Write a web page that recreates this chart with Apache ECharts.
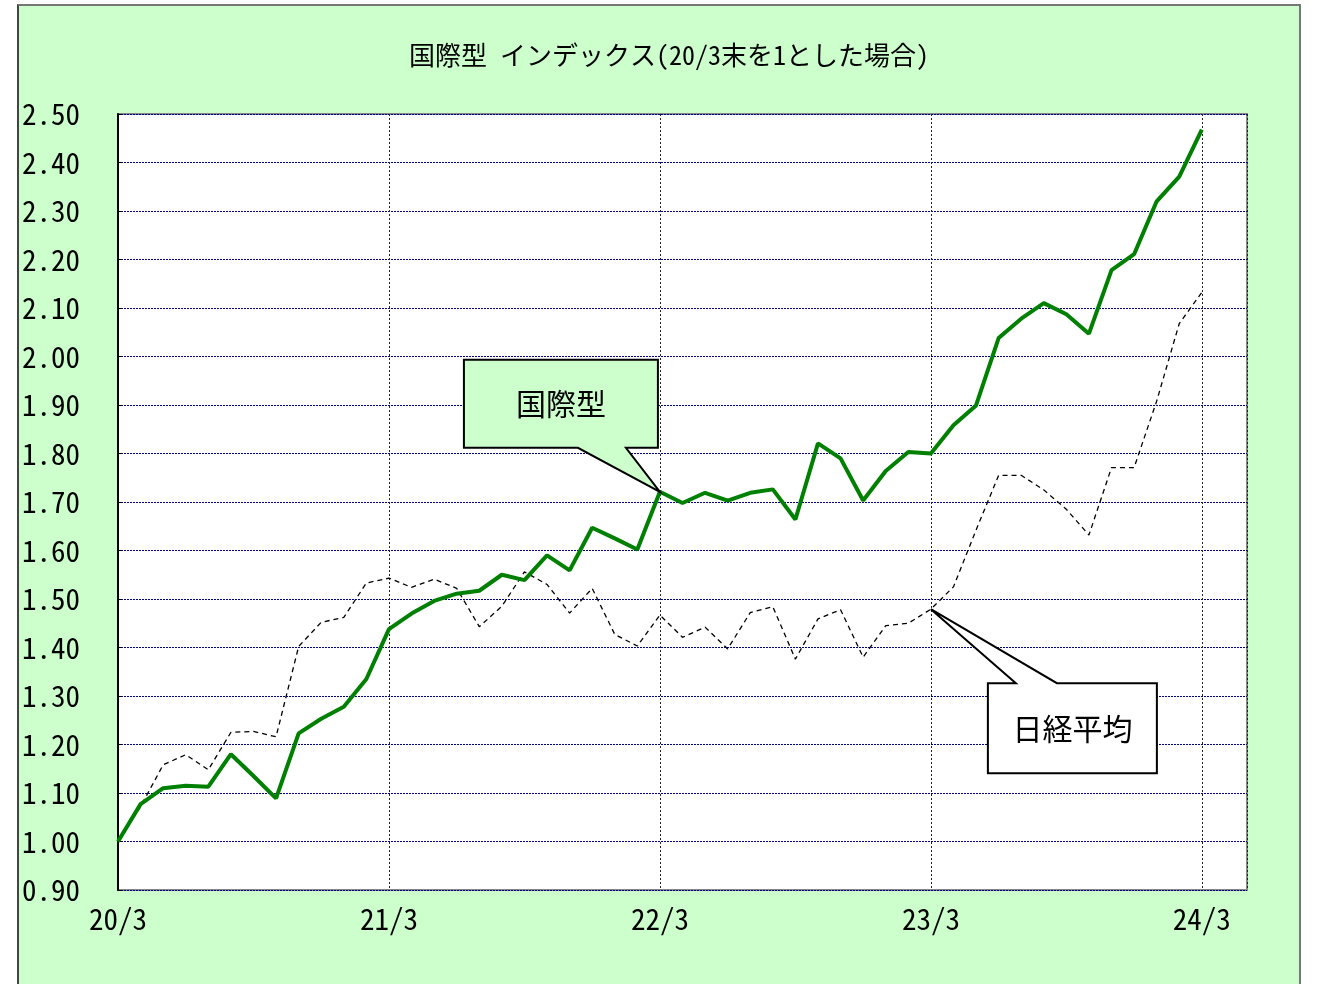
<!DOCTYPE html>
<html>
<head>
<meta charset="utf-8">
<script src="https://cdn.jsdelivr.net/npm/echarts@6/dist/echarts.min.js"></script>
<style>
  html, body { margin: 0; padding: 0; background: #fff; }
  #frame {
    position: absolute; left: 17px; top: 4px; width: 1280px; height: 990px;
    background: #ccffcc; border-left: 2px solid #444; border-top: 2px solid #777; border-right: 2px solid #777;
  }
  #chart { position: absolute; left: 0; top: 0; width: 1317px; height: 984px; }
</style>
</head>
<body>
<div id="frame"></div>
<div id="chart"></div>
<script>
// months since 2020/3, one value per month-end
const xLabels = ['20/3', '21/3', '22/3', '23/3', '24/3']
const intlIndex = [
  1.000, 1.077, 1.110, 1.115, 1.113, 1.180, 1.135, 1.089, 1.223, 1.253, 1.278, 1.335,
  1.438, 1.470, 1.496, 1.511, 1.517, 1.550, 1.539, 1.590, 1.559, 1.647, 1.625, 1.602,
  1.721, 1.698, 1.719, 1.703, 1.719, 1.726, 1.664, 1.821, 1.790, 1.703, 1.764, 1.803,
  1.800, 1.858, 1.899, 2.038, 2.078, 2.110, 2.087, 2.047, 2.178, 2.211, 2.320, 2.371,
  2.468
]
const nikkei = [
  1.000, 1.072, 1.158, 1.179, 1.148, 1.225, 1.227, 1.216, 1.402, 1.452, 1.462, 1.533,
  1.543, 1.524, 1.541, 1.522, 1.443, 1.485, 1.556, 1.530, 1.471, 1.522, 1.427, 1.403,
  1.467, 1.421, 1.442, 1.397, 1.472, 1.484, 1.376, 1.459, 1.478, 1.380, 1.445, 1.450,
  1.479, 1.525, 1.642, 1.755, 1.755, 1.725, 1.685, 1.632, 1.771, 1.771, 1.908, 2.068,
  2.132
]
const titleText = '国際型 インデックス(20/3末を1とした場合)'
const calloutIntl = { name: '国際型', month: 24 }
const calloutNikkei = { name: '日経平均', month: 36 }

const monoFont = "'Noto Sans Mono CJK JP', 'Liberation Mono', monospace"
const jpFont = "'Noto Sans Mono CJK JP', 'Noto Sans CJK JP', sans-serif"

const chart = echarts.init(document.getElementById('chart'))

const option = {
  animation: false,
  title: {
    text: titleText,
    left: 404,
    top: 37,
    textStyle: { fontFamily: jpFont, fontSize: 26, fontWeight: 'normal', color: '#000' }
  },
  grid: {
    left: 118, top: 114, right: 70, bottom: 94,
    show: true, backgroundColor: '#fff', borderColor: '#888', borderWidth: 2
  },
  xAxis: {
    type: 'value',
    min: 0, max: 50, interval: 12,
    axisLine: { show: false },
    axisTick: { show: false },
    axisLabel: {
      margin: 14,
      fontFamily: monoFont, fontSize: 29, color: '#000',
      showMaxLabel: false,
      formatter: v => (v % 12 === 0 ? xLabels[v / 12] || '' : '')
    },
    splitLine: { show: true, lineStyle: { color: '#222', type: [2, 2], width: 1 } }
  },
  yAxis: {
    type: 'value',
    min: 0.9, max: 2.5, interval: 0.1,
    axisLine: { show: true, onZero: false, lineStyle: { color: '#000', width: 2 } },
    axisTick: { show: true, inside: true, length: 4, lineStyle: { color: '#000' } },
    axisLabel: {
      align: 'left', margin: 96,
      fontFamily: monoFont, fontSize: 29, color: '#000',
      formatter: v => v.toFixed(2)
    },
    splitLine: { show: true, lineStyle: { color: '#000080', type: [2, 1], width: 1 } }
  },
  series: [
    {
      name: '日経平均',
      type: 'line',
      data: nikkei.map((v, i) => [i, v]),
      symbol: 'none',
      lineStyle: { color: '#000', width: 1.3, type: [5, 4] },
      z: 3
    },
    {
      name: '国際型',
      type: 'line',
      data: intlIndex.map((v, i) => [i, v]),
      symbol: 'none',
      lineStyle: { color: '#008000', width: 4 },
      z: 4
    }
  ]
}

chart.setOption(option)

// callout balloons anchored to the data points
function callout(c, values, box, base, fill) {
  const tip = chart.convertToPixel({ gridIndex: 0 }, [c.month, values[c.month]])
  const bx = tip[0] + box.dx, by = tip[1] + box.dy
  const pts = box.pointerUp
    ? [[bx, by], [bx + base[0], by], tip, [bx + base[1], by], [bx + box.w, by], [bx + box.w, by + box.h], [bx, by + box.h]]
    : [[bx, by], [bx + box.w, by], [bx + box.w, by + box.h], [bx + base[1], by + box.h], tip, [bx + base[0], by + box.h], [bx, by + box.h]]
  return [
    {
      type: 'polygon',
      shape: { points: pts },
      style: { fill: fill, stroke: '#000', lineWidth: 2 },
      z: 10
    },
    {
      type: 'text',
      x: bx + box.w / 2, y: by + box.h / 2,
      style: {
        text: c.name, fill: '#000', fontSize: 30, fontFamily: jpFont,
        align: 'center', verticalAlign: 'middle'
      },
      z: 11
    }
  ]
}

chart.setOption({
  graphic: [
    ...callout(calloutIntl, intlIndex, { dx: -196, dy: -132, w: 194, h: 88, pointerUp: false }, [114, 162], '#ccffcc'),
    ...callout(calloutNikkei, nikkei, { dx: 57, dy: 74, w: 169, h: 90, pointerUp: true }, [28, 69], '#fff')
  ]
})
</script>
</body>
</html>
